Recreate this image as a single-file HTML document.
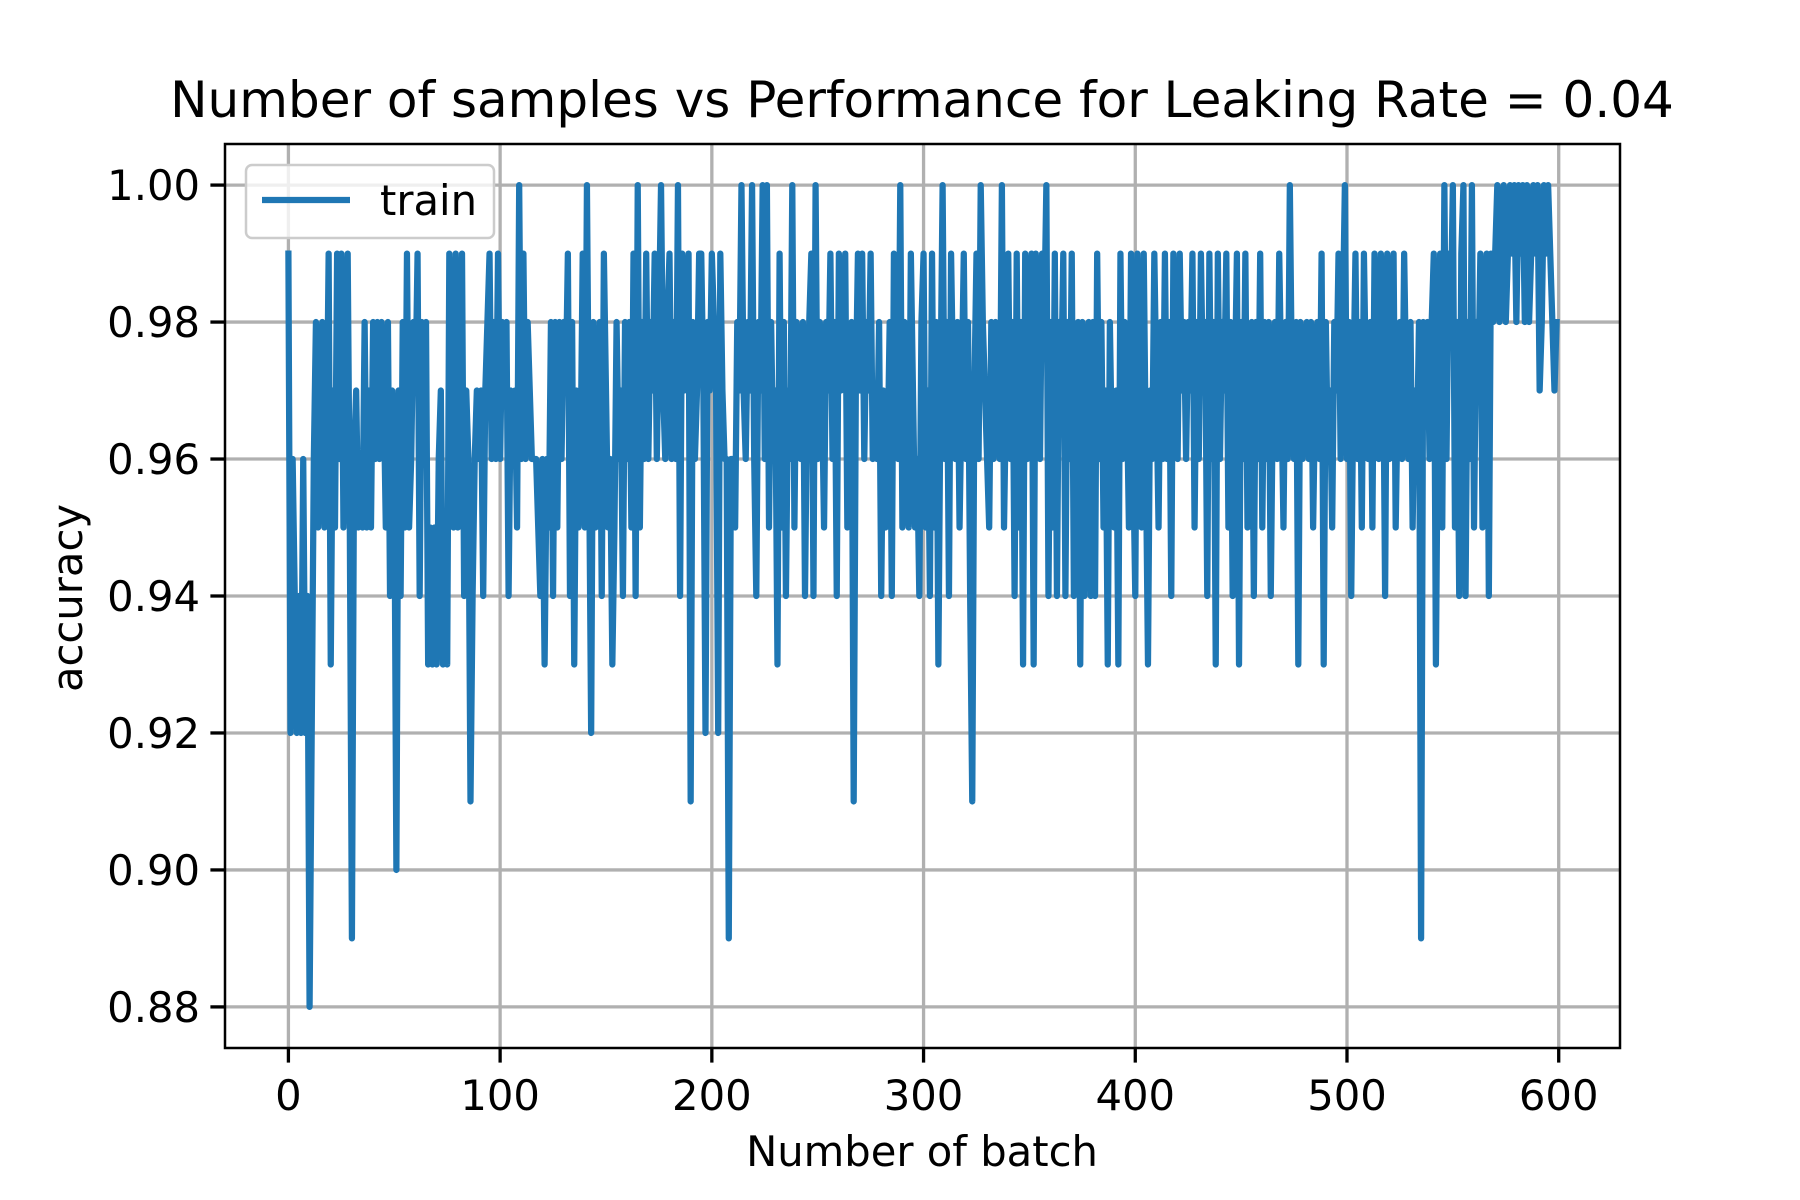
<!DOCTYPE html>
<html><head><meta charset="utf-8"><style>
html,body{margin:0;padding:0;background:#fff;}
svg{display:block;font-family:"DejaVu Sans","Liberation Sans",sans-serif;}
</style></head><body>
<svg id="chart" width="1800" height="1200" viewBox="0 0 1800 1200" xmlns="http://www.w3.org/2000/svg">
<rect x="0" y="0" width="1800" height="1200" fill="#fff"/>
<text x="922" y="117" font-size="50" text-anchor="middle" fill="#000">Number of samples vs Performance for Leaking Rate = 0.04</text>
<g id="grid"></g>
<g id="series"></g>
<rect x="225" y="144" width="1395" height="904" fill="none" stroke="#000" stroke-width="2.5"/>
<g id="ticks"></g>
<text x="922" y="1166" font-size="41.7" text-anchor="middle">Number of batch</text>
<text transform="translate(82,598) rotate(-90)" font-size="41.7" text-anchor="middle">accuracy</text>
<g>
<rect x="246" y="165" width="248" height="73" rx="6" fill="#fff" fill-opacity="0.8" stroke="#ccc" stroke-width="2.5"/>
<line x1="262" y1="200" x2="350" y2="200" stroke="#1f77b4" stroke-width="6.25"/>
<text x="380" y="215" font-size="41.7">train</text>
</g>
</svg>
<script>
const xTicks = [0,100,200,300,400,500,600];
const yTicks = [0.88,0.90,0.92,0.94,0.96,0.98,1.00];
const accuracyPct = [
99,92,96,94,92,94,92,96,92,94,88,92,96,98,95,97,98,95,96,99,
93,97,95,99,96,99,95,97,99,95,89,96,97,95,96,95,98,95,97,95,
98,96,98,96,98,97,95,98,94,97,96,90,97,94,98,95,99,95,96,98,
97,99,94,98,97,98,93,95,93,95,93,96,97,93,95,93,99,97,95,99,
95,97,99,94,97,96,91,94,96,97,96,97,94,97,98,99,96,98,96,99,
96,98,97,98,94,97,96,97,95,100,96,99,96,98,97,96,96,96,95,94,
96,93,96,95,98,94,98,95,98,96,98,97,99,94,98,93,97,95,96,99,
95,100,96,92,98,95,96,98,94,99,97,95,96,93,95,98,96,97,94,98,
96,98,95,99,94,100,95,98,96,99,96,98,97,99,96,98,100,97,96,98,
99,96,98,96,100,94,99,97,98,99,91,98,96,97,99,99,97,92,98,97,
99,98,97,92,99,97,96,96,89,96,96,95,98,97,100,97,96,98,97,100,
96,94,98,97,100,96,100,95,98,96,97,93,99,95,98,94,97,96,100,95,
98,97,96,98,94,97,98,99,94,100,96,98,97,95,98,97,99,96,98,94,
99,97,98,99,95,97,98,91,97,99,97,99,96,98,97,99,96,97,96,98,
94,97,95,96,98,94,99,97,96,100,95,98,96,95,99,97,95,96,94,98,
99,95,97,94,99,95,98,93,97,100,96,98,94,99,97,96,98,95,97,99,
96,98,94,91,97,99,96,100,98,97,96,95,98,96,98,97,96,100,95,97,
99,96,98,94,99,95,98,93,99,96,98,99,93,99,98,96,99,98,100,94,
98,95,99,94,98,97,99,94,98,96,99,94,97,98,93,98,94,97,98,94,
98,94,99,96,98,95,97,93,98,96,95,97,93,99,96,98,97,95,99,96,
94,99,96,95,99,96,93,97,96,99,97,95,98,96,99,96,98,94,99,97,
96,99,97,98,96,98,97,99,95,98,96,99,97,98,94,99,96,98,93,99,
96,98,97,99,95,98,94,97,99,93,98,96,99,95,97,98,94,98,96,99,
95,98,96,98,94,97,98,96,99,97,95,98,96,100,97,96,98,93,98,96,
97,98,96,98,95,97,98,96,99,93,98,96,97,95,98,97,99,96,98,100,
96,98,94,97,99,96,98,95,99,97,96,98,95,99,97,96,99,98,94,99,
96,98,99,95,97,98,96,99,97,96,98,95,97,96,98,89,98,97,98,96,
98,99,93,97,99,95,100,96,99,98,100,95,98,94,99,100,94,98,96,100,
95,98,97,99,95,98,99,94,99,98,99,100,98,99,100,98,99,100,99,100,
98,100,99,100,98,100,98,99,100,99,100,97,98,100,99,100,99,98,97,98
];
const NS='http://www.w3.org/2000/svg';
const L=225,R=1620,T=144,B=1048;
const n=accuracyPct.length;
const xMin=-(n-1)*0.05, xMax=(n-1)*1.05;
const vals=accuracyPct.map(v=>v/100);
const yLo=Math.min(...vals,...yTicks), yHi=Math.max(...vals,...yTicks);
const yMin=yLo-(yHi-yLo)*0.05, yMax=yHi+(yHi-yLo)*0.05;
const sx=v=>L+(v-xMin)/(xMax-xMin)*(R-L);
const sy=v=>B-(v-yMin)/(yMax-yMin)*(B-T);
const grid=document.getElementById('grid'), ticks=document.getElementById('ticks'), series=document.getElementById('series');
function mk(tag,attrs,parent){const e=document.createElementNS(NS,tag);for(const k in attrs)e.setAttribute(k,attrs[k]);parent.appendChild(e);return e;}
xTicks.forEach(t=>{
  const x=sx(t);
  const g=mk('line',{x1:x,y1:T,x2:x,y2:B,stroke:'#b0b0b0','stroke-width':3.3},grid);
  
  
  const tk=mk('line',{x1:x,y1:B,x2:x,y2:B+14.6,stroke:'#000','stroke-width':3.3},ticks);
  
  
  const lb=mk('text',{x:x,y:B+62,'font-size':41.7,'text-anchor':'middle'},ticks);
  lb.textContent=String(t);
  
  
});
yTicks.forEach(t=>{
  const y=sy(t);
  const g=mk('line',{x1:L,y1:y,x2:R,y2:y,stroke:'#b0b0b0','stroke-width':3.3},grid);
  
  
  const tk=mk('line',{x1:L-14.6,y1:y,x2:L,y2:y,stroke:'#000','stroke-width':3.3},ticks);
  
  
  const lb=mk('text',{x:L-25,y:y+15,'font-size':41.7,'text-anchor':'end'},ticks);
  lb.textContent=t.toFixed(2);
  
  
});
const pts=vals.map((v,i)=>sx(i).toFixed(2)+','+sy(v).toFixed(2)).join(' ');
const line=mk('polyline',{points:pts,fill:'none',stroke:'#1f77b4','stroke-width':6.25,'stroke-linejoin':'round','stroke-linecap':'square'},series);


</script>
</body></html>
